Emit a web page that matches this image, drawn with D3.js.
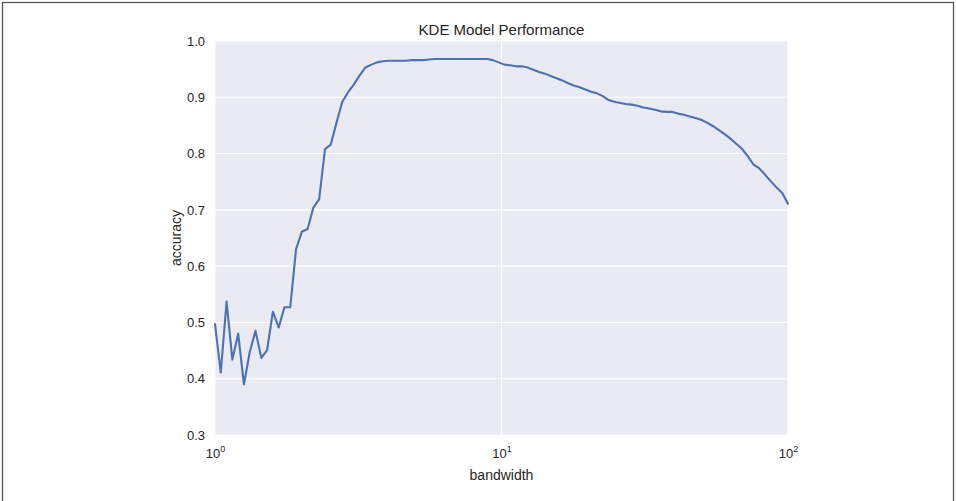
<!DOCTYPE html>
<html>
<head>
<meta charset="utf-8">
<script src="https://cdn.jsdelivr.net/npm/d3@7"></script>
<style>
  html, body { margin: 0; padding: 0; background: #fff; }
  svg { display: block; font-family: "Liberation Sans", Arial, sans-serif; }
</style>
</head>
<body>
<svg id="chart" width="956" height="501"></svg>
<script>
// Bandwidths: 100 log-spaced values from 10^0 to 10^2
const bandwidthCount = 100;
const bandwidthExpMin = 0;
const bandwidthExpMax = 2;

// Cross-validated accuracy for each bandwidth
const accuracy = [
  0.497, 0.411, 0.537, 0.434, 0.480, 0.390, 0.447, 0.485, 0.437, 0.451,
  0.519, 0.491, 0.527, 0.527, 0.630, 0.661, 0.666, 0.704, 0.719, 0.808,
  0.816, 0.855, 0.892, 0.909, 0.923, 0.939, 0.953, 0.958, 0.962, 0.964,
  0.965, 0.965, 0.965, 0.965, 0.966, 0.966, 0.966, 0.967, 0.968, 0.968,
  0.968, 0.968, 0.968, 0.968, 0.968, 0.968, 0.968, 0.968, 0.966, 0.962,
  0.958, 0.957, 0.955, 0.955, 0.953, 0.949, 0.945, 0.942, 0.938, 0.934,
  0.930, 0.925, 0.921, 0.918, 0.914, 0.910, 0.907, 0.902, 0.895, 0.892,
  0.890, 0.888, 0.887, 0.885, 0.882, 0.880, 0.878, 0.875, 0.874, 0.874,
  0.871, 0.869, 0.866, 0.863, 0.860, 0.855, 0.849, 0.842, 0.835, 0.827,
  0.818, 0.809, 0.796, 0.781, 0.774, 0.763, 0.751, 0.740, 0.730, 0.711
];

const bandwidth = d3.range(bandwidthCount).map(i =>
  Math.pow(10, bandwidthExpMin + (bandwidthExpMax - bandwidthExpMin) * i / (bandwidthCount - 1)));

const xTicks = [1, 10, 100];
const xTickExps = ["0", "1", "2"];
const yTicks = [0.3, 0.4, 0.5, 0.6, 0.7, 0.8, 0.9, 1.0];

const titleText = "KDE Model Performance";
const xLabelText = "bandwidth";
const yLabelText = "accuracy";

const svg = d3.select("#chart");
const W = 956, H = 501;
const plot = { left: 215, right: 788, top: 41, bottom: 435 };
const textColor = "#262626";

// outer frame
svg.append("rect")
  .attr("x", 2.5).attr("y", 2.5)
  .attr("width", W - 5).attr("height", H + 20)
  .attr("fill", "none").attr("stroke", "#555").attr("stroke-width", 1.3);

const x = d3.scaleLog().domain([1, 100]).range([plot.left, plot.right]);
const y = d3.scaleLinear().domain([0.3, 1.0]).range([plot.bottom, plot.top]);

// axes background
svg.append("rect")
  .attr("x", plot.left).attr("y", plot.top)
  .attr("width", plot.right - plot.left).attr("height", plot.bottom - plot.top)
  .attr("fill", "#EAEAF2");

// grid
const grid = svg.append("g");
grid.selectAll("line.h").data(yTicks).join("line")
  .attr("x1", plot.left).attr("x2", plot.right)
  .attr("y1", d => y(d)).attr("y2", d => y(d))
  .attr("stroke", "#fff").attr("stroke-width", 1.1);
grid.selectAll("line.v").data(xTicks).join("line")
  .attr("x1", d => x(d)).attr("x2", d => x(d))
  .attr("y1", plot.top).attr("y2", plot.bottom)
  .attr("stroke", "#fff").attr("stroke-width", 1.1);

// curve
const line = d3.line()
  .x((d, i) => x(bandwidth[i]))
  .y(d => y(d));
svg.append("path")
  .datum(accuracy)
  .attr("d", line)
  .attr("fill", "none")
  .attr("stroke", "#4C72B0")
  .attr("stroke-width", 2.1)
  .attr("stroke-linejoin", "round")
  .attr("stroke-linecap", "round");

// y tick labels
const yAxis = d3.axisLeft(y).tickValues(yTicks).tickFormat(d3.format(".1f")).tickSize(0).tickPadding(10);
const gy = svg.append("g").attr("transform", `translate(${plot.left},0)`).call(yAxis);
gy.select(".domain").remove();
gy.selectAll("text").attr("font-size", 13).attr("fill", textColor)
  .attr("font-family", "'Liberation Sans', Arial, sans-serif");

// x tick labels with superscripts
const xAxis = d3.axisBottom(x).tickValues(xTicks).tickFormat(() => "").tickSize(0);
const gx = svg.append("g").attr("transform", `translate(0,${plot.bottom})`).call(xAxis);
gx.select(".domain").remove();
gx.selectAll(".tick").each(function(d, i) {
  const t = d3.select(this).select("text")
    .attr("y", 23).attr("dy", 0)
    .attr("font-size", 13).attr("fill", textColor)
    .attr("font-family", "'Liberation Sans', Arial, sans-serif");
  t.append("tspan").text("10");
  t.append("tspan").attr("dy", -6).attr("font-size", 9).text(xTickExps[i]);
});

// title and axis labels
svg.append("text")
  .attr("x", (plot.left + plot.right) / 2).attr("y", 35)
  .attr("text-anchor", "middle").attr("font-size", 15).attr("fill", textColor)
  .text(titleText);
svg.append("text")
  .attr("x", (plot.left + plot.right) / 2).attr("y", 480)
  .attr("text-anchor", "middle").attr("font-size", 14).attr("fill", textColor)
  .text(xLabelText);
svg.append("text")
  .attr("transform", `translate(181,${(plot.top + plot.bottom) / 2}) rotate(-90)`)
  .attr("text-anchor", "middle").attr("font-size", 14).attr("fill", textColor)
  .text(yLabelText);
</script>
</body>
</html>
